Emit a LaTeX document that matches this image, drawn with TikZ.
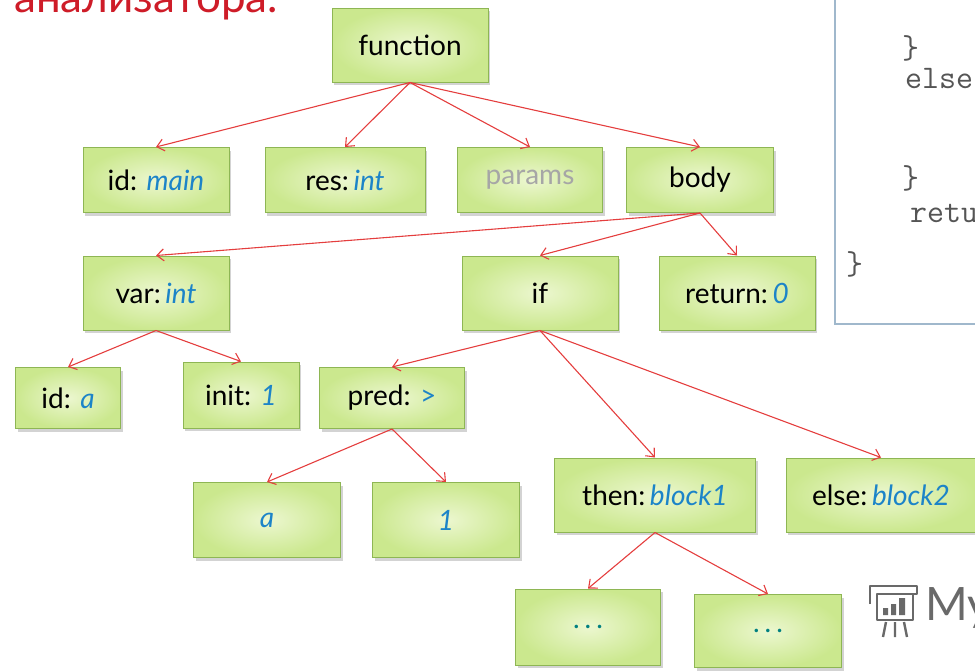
\documentclass[tikz,border=0pt]{standalone}
\usepackage{fontspec}
\setmainfont{Lato}
\usetikzlibrary{shadows,arrows.meta}
\definecolor{boxfill}{RGB}{203,232,142}
\definecolor{boxlight}{RGB}{236,247,208}
\definecolor{boxline}{RGB}{142,182,84}
\definecolor{valblue}{RGB}{28,132,200}
\definecolor{linkred}{RGB}{228,62,62}
\definecolor{titlered}{RGB}{206,28,40}
\definecolor{codeline}{RGB}{160,184,204}
\definecolor{codegray}{RGB}{85,85,85}
\definecolor{markgray}{RGB}{105,105,105}
\newcommand\val[1]{\textcolor{valblue}{\itshape #1}}

\begin{document}
\begin{tikzpicture}[x=1pt,y=-1pt]
\tikzset{ast/.style={draw=boxline,line width=1pt,shade,inner color=boxlight,outer color=boxfill,
  drop shadow={shadow xshift=2pt,shadow yshift=-3pt,opacity=0.35},
  minimum width=146pt,minimum height=65pt,inner sep=0pt,font=\fontsize{28}{34}\selectfont},
  redarrow/.style={draw=linkred,line width=1.1pt,-{Straight Barb[length=7pt,width=12pt]}},
  codetext/.style={anchor=base west,inner sep=0pt,text=codegray,font=\ttfamily\fontsize{33}{33}\selectfont}}
\useasboundingbox (0,0) rectangle (975,670);
\node[anchor=base west,inner sep=0pt,text=titlered,font=\fontsize{44}{50}\selectfont] (title) at (14,12) {анализатора.};
\draw[codeline,line width=1.2pt,fill=white] (835,-10) rectangle (990,324);
\node[codetext] (c1) at (902,58) {\}};
\node[codetext] (c2) at (905,88) {else};
\node[codetext] (c3) at (902,188) {\}};
\node[codetext] (c4) at (910,222) {retu};
\node[codetext] (c5) at (846,274) {\}};
\node[ast,minimum width=156pt,minimum height=74pt] (fn) at (410,45) {function};
\node[ast] (idmain) at (156,180) {id: \val{main}};
\node[ast,minimum width=160pt] (res) at (345,180) {res:\,\val{int}};
\node[ast,minimum width=145pt,text=black!35] (params) at (530,180) {params};
\node[ast,minimum width=147pt] (body) at (700,180) {body};
\node[ast,minimum height=74pt] (var) at (156,293) {var:\,\val{int}};
\node[ast,minimum width=156pt,minimum height=74pt] (ifnode) at (540,293) {if};
\node[ast,minimum width=156pt,minimum height=74pt] (ret) at (737,293) {return:\,\val{0}};
\node[ast,minimum width=105pt,minimum height=61pt] (ida) at (68,398) {id: \val{a}};
\node[ast,minimum width=116pt,minimum height=66pt] (init) at (241,395) {init: \val{1}};
\node[ast,minimum width=145pt,minimum height=61pt] (pred) at (392,398) {pred: \textcolor{valblue}{>}};
\node[ast,minimum width=147pt,minimum height=75pt] (pa) at (267,520) {\val{a}};
\node[ast,minimum width=147pt,minimum height=75pt] (pone) at (446,520) {\val{1}};
\node[ast,minimum width=201pt,minimum height=74pt] (then) at (655,495) {then:\,\val{block1}};
\node[ast,minimum width=190pt,minimum height=74pt] (else) at (881,495) {else:\,\val{block2}};
\node[ast,minimum width=145pt,minimum height=76pt,text=teal] (dotsa) at (588,627) {.\hspace{5pt}.\hspace{5pt}.};
\node[ast,minimum width=147pt,minimum height=73pt,text=teal] (dotsb) at (768,631) {.\hspace{5pt}.\hspace{5pt}.};
\draw[redarrow] (fn.south) -- (idmain.north);
\draw[redarrow] (fn.south) -- (res.north);
\draw[redarrow] (fn.south) -- (params.north);
\draw[redarrow] (fn.south) -- (body.north);
\draw[redarrow] (body.south) -- (var.north);
\draw[redarrow] (body.south) -- (ifnode.north);
\draw[redarrow] (body.south) -- (ret.north);
\draw[redarrow] (var.south) -- (ida.north);
\draw[redarrow] (var.south) -- (init.north);
\draw[redarrow] (ifnode.south) -- (pred.north);
\draw[redarrow] (ifnode.south) -- (then.north);
\draw[redarrow] (ifnode.south) -- (else.north);
\draw[redarrow] (pred.south) -- (pa.north);
\draw[redarrow] (pred.south) -- (pone.north);
\draw[redarrow] (then.south) -- (dotsa.north);
\draw[redarrow] (then.south) -- (dotsb.north);
\draw[markgray,line width=2.4pt,line join=round] (870,604) -- (870,586) -- (917,586) -- (917,594) -- (877,594) -- (877,620) -- (913,620) -- (913,594);
\fill[markgray] (883,608) rectangle (888,615) (891,604) rectangle (896,615) (899,598) rectangle (905,615);
\draw[markgray,line width=2.4pt] (886,622) -- (883,637) (895,622) -- (895,637) (904,622) -- (907,637);
\node[anchor=west,inner sep=0pt,text=markgray,font=\fontsize{46}{50}\selectfont] (mark) at (925,608) {My};
\end{tikzpicture}
\end{document}
